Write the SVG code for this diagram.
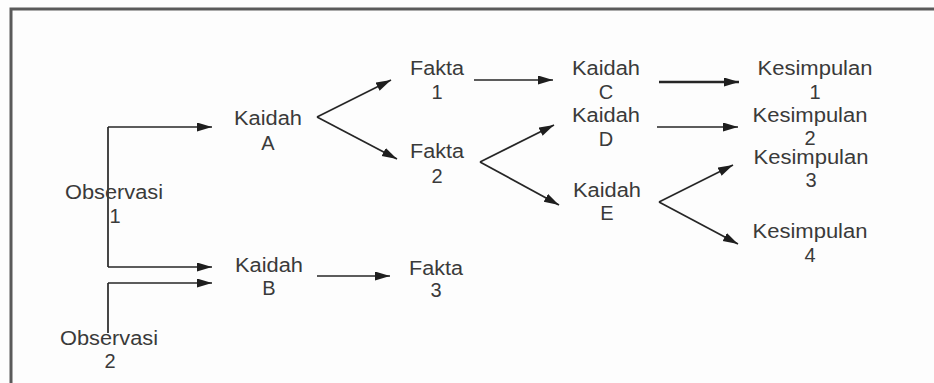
<svg xmlns="http://www.w3.org/2000/svg" width="934" height="383" viewBox="0 0 934 383">
<defs>
<marker id="ah" markerUnits="userSpaceOnUse" markerWidth="16" markerHeight="10" refX="15" refY="4.5" orient="auto">
<path d="M0,0 L15,4.5 L0,9 z" fill="#1e1e1e"/>
</marker>
<style>
text{font-family:"Liberation Sans",Arial,sans-serif;font-size:20px;fill:#3a3a3a;text-anchor:middle}
.c{fill:none;stroke:#262626;stroke-width:1.7}
.ca{fill:none;stroke:#262626;stroke-width:1.7;marker-end:url(#ah)}
.thick{stroke-width:2.4}
.frame{fill:none;stroke:#5a5a5a;stroke-width:3}
</style>
</defs>
<rect width="934" height="383" fill="#fdfdfd"/>
<path class="frame" d="M11,383 L11,9 L934,9"/>
<g id="connectors">
<path class="c" d="M108,333 L108,283"/>
<path class="c" d="M108,127 L108,267"/>
<path class="ca" d="M108,127 L212,127"/>
<path class="ca" d="M108,267 L212,267"/>
<path class="ca" d="M108,283 L212,283"/>
<path class="ca" d="M317,276 L390,276"/>
<path class="ca" d="M317,117 L391,80"/>
<path class="ca" d="M317,117 L397,159"/>
<path class="ca" d="M474,80 L553,80"/>
<path class="ca" d="M480,162 L554,125"/>
<path class="ca" d="M480,162 L559,205"/>
<path class="ca thick" d="M659,82 L739,82"/>
<path class="ca" d="M657,127 L738,127"/>
<path class="ca" d="M659,202 L733,165"/>
<path class="ca" d="M659,202 L738,244"/>
</g>
<g id="obs1"><text x="114" y="199" textLength="98" lengthAdjust="spacingAndGlyphs">Observasi</text><text x="115" y="223">1</text></g>
<g id="obs2"><text x="109" y="345" textLength="98" lengthAdjust="spacingAndGlyphs">Observasi</text><text x="110" y="368">2</text></g>
<g id="kaidahA"><text x="268" y="125" textLength="68" lengthAdjust="spacingAndGlyphs">Kaidah</text><text x="268" y="150">A</text></g>
<g id="kaidahB"><text x="269" y="272" textLength="68" lengthAdjust="spacingAndGlyphs">Kaidah</text><text x="269" y="295">B</text></g>
<g id="fakta1"><text x="437" y="75" textLength="54" lengthAdjust="spacingAndGlyphs">Fakta</text><text x="437" y="99">1</text></g>
<g id="fakta2"><text x="437" y="158" textLength="54" lengthAdjust="spacingAndGlyphs">Fakta</text><text x="437" y="183">2</text></g>
<g id="fakta3"><text x="436" y="275" textLength="54" lengthAdjust="spacingAndGlyphs">Fakta</text><text x="436" y="297">3</text></g>
<g id="kaidahC"><text x="606" y="75" textLength="68" lengthAdjust="spacingAndGlyphs">Kaidah</text><text x="606" y="99">C</text></g>
<g id="kaidahD"><text x="606" y="122" textLength="68" lengthAdjust="spacingAndGlyphs">Kaidah</text><text x="606" y="146">D</text></g>
<g id="kaidahE"><text x="607" y="197" textLength="68" lengthAdjust="spacingAndGlyphs">Kaidah</text><text x="607" y="220">E</text></g>
<g id="kes1"><text x="815" y="75" textLength="115" lengthAdjust="spacingAndGlyphs">Kesimpulan</text><text x="815" y="99">1</text></g>
<g id="kes2"><text x="810" y="122" textLength="115" lengthAdjust="spacingAndGlyphs">Kesimpulan</text><text x="810" y="145">2</text></g>
<g id="kes3"><text x="811" y="164" textLength="115" lengthAdjust="spacingAndGlyphs">Kesimpulan</text><text x="811" y="187">3</text></g>
<g id="kes4"><text x="810" y="238" textLength="115" lengthAdjust="spacingAndGlyphs">Kesimpulan</text><text x="810" y="262">4</text></g>
</svg>
